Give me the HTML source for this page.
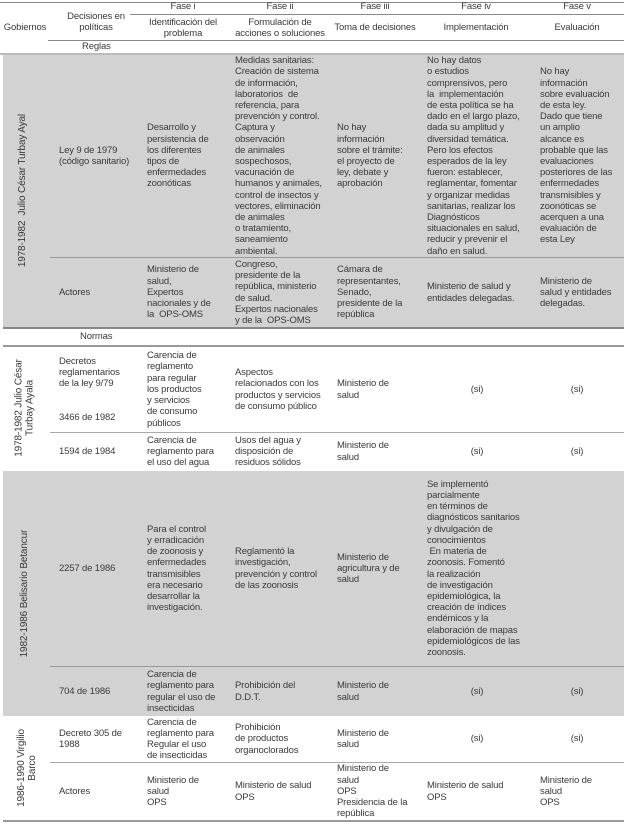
<!DOCTYPE html>
<html><head><meta charset="utf-8"><style>
body{margin:0;width:624px;height:825px;background:#fff;position:relative;overflow:hidden;font-family:"Liberation Sans",Arial,sans-serif;font-size:9.5px;letter-spacing:-0.15px;color:#3a3a3a;line-height:11.2px}
.a{position:absolute}
.l{position:absolute;height:1px;background:#8a8a8a}
.g{position:absolute;left:3px;right:0;background:#d2d2d2}
.row{position:absolute;left:0;width:624px}
.c{position:absolute;top:0;bottom:0;display:flex;align-items:center}
.ctr{justify-content:center;text-align:center}
.v{position:absolute;display:flex;align-items:center;justify-content:center;text-align:center}
.v span{transform:rotate(-90deg);white-space:nowrap;display:block;font-size:10px}
</style></head><body>
<div class="g" style="top:54px;height:274px"></div>
<div class="g" style="top:471px;height:245px"></div>

<div class="l" style="left:0;width:624px;top:2px"></div>
<div class="l" style="left:130px;width:494px;top:14px"></div>
<div class="l" style="left:48px;width:576px;top:40px"></div>
<div class="l" style="left:0;width:624px;top:53px;height:2px;background:#bbb"></div>
<div class="l" style="left:50px;width:574px;top:257px;background:#9a9a9a"></div>
<div class="l" style="left:3px;width:621px;top:327px;height:2px;background:#888"></div>
<div class="l" style="left:3px;width:621px;top:345px;height:2px;background:#999"></div>
<div class="l" style="left:50px;width:574px;top:432px;background:#aaa"></div>
<div class="l" style="left:50px;width:574px;top:666px;background:#999"></div>
<div class="l" style="left:50px;width:574px;top:762px;background:#aaa"></div>
<div class="l" style="left:3px;width:621px;top:820px;height:2px;background:#999"></div>

<!-- header -->
<div class="a" style="left:0;width:50px;top:22px;text-align:center">Gobiernos</div>
<div class="a" style="left:55px;width:82px;top:11px;text-align:center">Decisiones en<br>políticas</div>
<div class="a" style="left:133px;width:100px;top:1px;text-align:center">Fase i</div>
<div class="a" style="left:225px;width:110px;top:1px;text-align:center">Fase ii</div>
<div class="a" style="left:330px;width:90px;top:1px;text-align:center">Fase iii</div>
<div class="a" style="left:426px;width:100px;top:1px;text-align:center">Fase iv</div>
<div class="a" style="left:530px;width:94px;top:1px;text-align:center">Fase v</div>
<div class="a" style="left:133px;width:100px;top:17px;text-align:center">Identificación del<br>problema</div>
<div class="a" style="left:225px;width:110px;top:17px;text-align:center">Formulación de<br>acciones o soluciones</div>
<div class="a" style="left:330px;width:90px;top:22px;text-align:center">Toma de decisiones</div>
<div class="a" style="left:426px;width:100px;top:22px;text-align:center">Implementación</div>
<div class="a" style="left:530px;width:94px;top:22px;text-align:center">Evaluación</div>
<div class="a" style="left:82px;top:41px">Reglas</div>
<div class="a" style="left:80px;top:331px">Normas</div>

<!-- vertical labels -->
<div class="v" style="left:0;width:46px;top:54px;height:274px"><span>1978-1982&nbsp; Julio César Turbay Ayal</span></div>
<div class="v" style="left:0;width:50px;top:346px;height:124px"><span style="line-height:11px">1978-1982 Julio César<br>Turbay Ayala</span></div>
<div class="v" style="left:0;width:50px;top:471px;height:245px"><span>1982-1986 Belisario Betancur</span></div>
<div class="v" style="left:0;width:54px;top:716px;height:104px"><span style="line-height:11px">1986-1990 Virgilio<br>Barco</span></div>

<!-- R1 -->
<div class="row" style="top:55px;height:202px">
<div class="c" style="left:59px">Ley 9 de 1979<br>(código sanitario)</div>
<div class="c" style="left:147px">Desarrollo y<br>persistencia de<br>los diferentes<br>tipos de<br>enfermedades<br>zoonóticas</div>
<div class="c" style="left:235px">Medidas sanitarias:<br>Creación de sistema<br>de información,<br>laboratorios&nbsp; de<br>referencia, para<br>prevención y control.<br>Captura y<br>observación<br>de animales<br>sospechosos,<br>vacunación de<br>humanos y animales,<br>control de insectos y<br>vectores, eliminación<br>de animales<br>o tratamiento,<br>saneamiento<br>ambiental.</div>
<div class="c" style="left:337px">No hay<br>información<br>sobre el trámite:<br>el proyecto de<br>ley, debate y<br>aprobación</div>
<div class="c" style="left:427px">No hay datos<br>o estudios<br>comprensivos, pero<br>la&nbsp; implementación<br>de esta política se ha<br>dado en el largo plazo,<br>dada su amplitud y<br>diversidad temática.<br>Pero los efectos<br>esperados de la ley<br>fueron: establecer,<br>reglamentar, fomentar<br>y organizar medidas<br>sanitarias, realizar los<br>Diagnósticos<br>situacionales en salud,<br>reducir y prevenir el<br>daño en salud.</div>
<div class="c" style="left:540px">No hay<br>información<br>sobre evaluación<br>de esta ley.<br>Dado que tiene<br>un amplio<br>alcance es<br>probable que las<br>evaluaciones<br>posteriores de las<br>enfermedades<br>transmisibles y<br>zoonóticas se<br>acerquen a una<br>evaluación de<br>esta Ley</div>
</div>
<!-- R2 -->
<div class="row" style="top:258px;height:69px">
<div class="c" style="left:59px">Actores</div>
<div class="c" style="left:147px">Ministerio de<br>salud,<br>Expertos<br>nacionales y de<br>la&nbsp; OPS-OMS</div>
<div class="c" style="left:235px">Congreso,<br>presidente de la<br>república, ministerio<br>de salud.<br>Expertos nacionales<br>y de la&nbsp; OPS-OMS</div>
<div class="c" style="left:337px">Cámara de<br>representantes,<br>Senado,<br>presidente de la<br>república</div>
<div class="c" style="left:427px">Ministerio de salud y<br>entidades delegadas.</div>
<div class="c" style="left:540px">Ministerio de<br>salud y entidades<br>delegadas.</div>
</div>
<!-- R3 -->
<div class="row" style="top:347px;height:85px">
<div class="c" style="left:59px">Decretos<br>reglamentarios<br>de la ley 9/79<br><br><br>3466 de 1982</div>
<div class="c" style="left:147px">Carencia de<br>reglamento<br>para regular<br>los productos<br>y servicios<br>de consumo<br>públicos</div>
<div class="c" style="left:235px">Aspectos<br>relacionados con los<br>productos y servicios<br>de consumo público</div>
<div class="c" style="left:337px">Ministerio de<br>salud</div>
<div class="c ctr" style="left:427px;width:100px">(si)</div>
<div class="c ctr" style="left:530px;width:94px">(si)</div>
</div>
<!-- R4 -->
<div class="row" style="top:433px;height:37px">
<div class="c" style="left:59px">1594 de 1984</div>
<div class="c" style="left:147px">Carencia de<br>reglamento para<br>el uso del agua</div>
<div class="c" style="left:235px">Usos del agua y<br>disposición de<br>residuos sólidos</div>
<div class="c" style="left:337px">Ministerio de<br>salud</div>
<div class="c ctr" style="left:427px;width:100px">(si)</div>
<div class="c ctr" style="left:530px;width:94px">(si)</div>
</div>
<!-- R5 -->
<div class="row" style="top:471px;height:195px">
<div class="c" style="left:59px">2257 de 1986</div>
<div class="c" style="left:147px">Para el control<br>y erradicación<br>de zoonosis y<br>enfermedades<br>transmisibles<br>era necesario<br>desarrollar la<br>investigación.</div>
<div class="c" style="left:235px">Reglamentó la<br>investigación,<br>prevención y control<br>de las zoonosis</div>
<div class="c" style="left:337px">Ministerio de<br>agricultura y de<br>salud</div>
<div class="c" style="left:427px">Se implementó<br>parcialmente<br>en términos de<br>diagnósticos sanitarios<br>y divulgación de<br>conocimientos<br>&nbsp;En materia de<br>zoonosis. Fomentó<br>la realización<br>de investigación<br>epidemiológica, la<br>creación de índices<br>endémicos y la<br>elaboración de mapas<br>epidemiológicos de las<br>zoonosis.</div>
</div>
<!-- R6 -->
<div class="row" style="top:667px;height:49px">
<div class="c" style="left:59px">704 de 1986</div>
<div class="c" style="left:147px">Carencia de<br>reglamento para<br>regular el uso de<br>insecticidas</div>
<div class="c" style="left:235px">Prohibición del<br>D.D.T.</div>
<div class="c" style="left:337px">Ministerio de<br>salud</div>
<div class="c ctr" style="left:427px;width:100px">(si)</div>
<div class="c ctr" style="left:530px;width:94px">(si)</div>
</div>
<!-- R7 -->
<div class="row" style="top:716px;height:46px">
<div class="c" style="left:59px">Decreto 305 de<br>1988</div>
<div class="c" style="left:147px">Carencia de<br>reglamento para<br>Regular el uso<br>de insecticidas</div>
<div class="c" style="left:235px">Prohibición<br>de productos<br>organoclorados</div>
<div class="c" style="left:337px">Ministerio de<br>salud</div>
<div class="c ctr" style="left:427px;width:100px">(si)</div>
<div class="c ctr" style="left:530px;width:94px">(si)</div>
</div>
<!-- R8 -->
<div class="row" style="top:763px;height:57px">
<div class="c" style="left:59px">Actores</div>
<div class="c" style="left:147px">Ministerio de<br>salud<br>OPS</div>
<div class="c" style="left:235px">Ministerio de salud<br>OPS</div>
<div class="c" style="left:337px">Ministerio de<br>salud<br>OPS<br>Presidencia de la<br>república</div>
<div class="c" style="left:427px">Ministerio de salud<br>OPS</div>
<div class="c" style="left:540px">Ministerio de<br>salud<br>OPS</div>
</div>
</body></html>
